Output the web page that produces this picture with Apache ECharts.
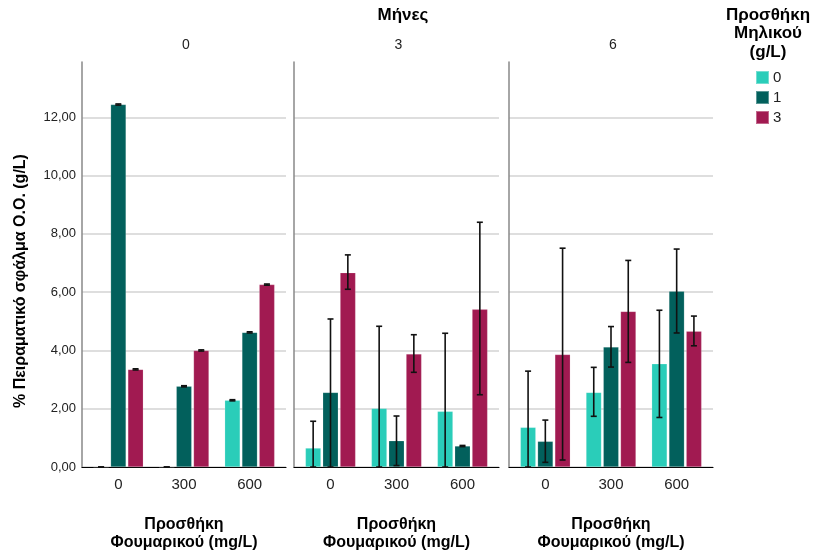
<!DOCTYPE html>
<html>
<head>
<meta charset="utf-8">
<script src="https://cdn.jsdelivr.net/npm/echarts@6/dist/echarts.min.js"></script>
<style>
  html, body { margin: 0; padding: 0; background: #fff; }
  #chart { width: 814px; height: 552px; }
</style>
</head>
<body>
<div id="chart"></div>
<script>
// categories / facets
var fumaric = ['0', '300', '600'];
var months = ['0', '3', '6'];
var malic = ['0', '1', '3'];
var yTicks = [0, 2, 4, 6, 8, 10, 12];

// means per month panel, per malic series, over fumaric categories
var mean0 = [[0, 0, 2.29], [12.44, 2.77, 4.62], [3.35, 4.0, 6.26]];
var mean3 = [[0.65, 2.01, 1.91], [2.56, 0.90, 0.72], [6.67, 3.88, 5.41]];
var mean6 = [[1.36, 2.56, 3.54], [0.88, 4.12, 6.03], [3.86, 5.34, 4.66]];

// error bar lows / highs (same layout)
var low0 = [[0, 0, 2.27], [12.42, 2.75, 4.60], [3.33, 3.98, 6.24]];
var high0 = [[0, 0, 2.31], [12.46, 2.79, 4.64], [3.37, 4.02, 6.28]];
var low3 = [[0, 0, 0], [0, 0.05, 0.70], [6.10, 3.25, 2.48]];
var high3 = [[1.57, 4.83, 4.59], [5.08, 1.75, 0.74], [7.28, 4.54, 8.40]];
var low6 = [[0, 1.74, 1.70], [0.16, 3.43, 4.60], [0.24, 3.59, 4.16]];
var high6 = [[3.29, 3.42, 5.38], [1.61, 4.82, 7.48], [7.51, 7.09, 5.18]];

var means = [mean0, mean3, mean6];
var lows = [low0, low3, low6];
var highs = [high0, high3, high6];

var colors = ['#2ACDB9', '#02605C', '#A11A51'];
var font = 'Liberation Sans, Arial, sans-serif';
var YMAX = 13.9;

var panels = [
  {left: 82, width: 204},
  {left: 294, width: 205},
  {left: 509, width: 204}
];
var INSET = 3.5; // bars sit slightly inside each panel frame

var BAR_CAT_GAP = 0.24, BAR_GAP = 0.12;

var grids = [], xAxes = [], yAxes = [], series = [], titles = [];

panels.forEach(function (p, k) {
  var f = 2 * k, b = 2 * k + 1;
  // frame grid: gridlines, axis lines
  grids.push({left: p.left, width: p.width, top: 62, bottom: 85, outerBoundsMode: 'none'});
  // bar grid
  grids.push({left: p.left + INSET, width: p.width - 2 * INSET, top: 62, bottom: 85, outerBoundsMode: 'none'});

  xAxes.push({
    type: 'category', gridIndex: f, data: fumaric,
    axisTick: {show: false}, axisLabel: {show: false},
    axisLine: {lineStyle: {color: '#000', width: 1.2}},
    name: 'Προσθήκη\nΦουμαρικού (mg/L)',
    nameLocation: 'middle', nameGap: 49,
    nameTextStyle: {color: '#000', fontSize: 16, fontWeight: 'bold', fontFamily: font, lineHeight: 18}
  });
  xAxes.push({
    type: 'category', gridIndex: b, data: fumaric,
    axisTick: {show: false}, axisLine: {show: false},
    axisLabel: {color: '#222', fontSize: 15, fontFamily: font, margin: 10}
  });

  yAxes.push({
    type: 'value', gridIndex: f, min: 0, max: YMAX, interval: 2,
    axisLine: {show: true, lineStyle: {color: '#888', width: 1.5}},
    axisTick: {show: false},
    axisLabel: {
      show: k === 0, color: '#222', fontSize: 13, fontFamily: font, showMaxLabel: false, margin: 6,
      formatter: function (v) { return yTicks.indexOf(v) >= 0 ? v.toFixed(2).replace('.', ',') : ''; }
    },
    splitLine: {lineStyle: {color: '#d3d3d3', width: 1.5}, showMaxLine: false}
  });
  yAxes.push({
    type: 'value', gridIndex: b, min: 0, max: YMAX, interval: 2,
    axisLine: {show: false}, axisTick: {show: false},
    axisLabel: {show: false}, splitLine: {show: false}
  });

  titles.push({
    text: months[k], left: p.left + p.width / 2 - 3, top: 33, textAlign: 'center',
    textStyle: {fontSize: 14, fontWeight: 'normal', color: '#222', fontFamily: font}
  });

  malic.forEach(function (m, s) {
    series.push({
      type: 'bar', name: m, xAxisIndex: b, yAxisIndex: b,
      data: means[k][s],
      barCategoryGap: (BAR_CAT_GAP * 100) + '%', barGap: (BAR_GAP * 100) + '%',
      itemStyle: {color: colors[s], borderColor: 'rgba(255,255,255,0.35)', borderWidth: 0.5},
      silent: true
    });
  });

  var errData = [];
  malic.forEach(function (m, s) {
    fumaric.forEach(function (c, i) {
      errData.push([i, lows[k][s][i], highs[k][s][i], s]);
    });
  });
  series.push({
    type: 'custom', xAxisIndex: b, yAxisIndex: b, z: 10, silent: true,
    data: errData,
    renderItem: function (params, api) {
      var cat = api.value(0), s = api.value(3);
      var band = api.size([1, 0])[0];
      var w = band * (1 - BAR_CAT_GAP) / (3 + 2 * BAR_GAP);
      var off = (s - 1) * w * (1 + BAR_GAP);
      var lo = api.coord([cat, api.value(1)]);
      var hi = api.coord([cat, api.value(2)]);
      var x = lo[0] + off, cap = 3;
      var st = {stroke: '#111', lineWidth: 1.6};
      return {
        type: 'group',
        children: [
          {type: 'line', shape: {x1: x, y1: lo[1], x2: x, y2: hi[1]}, style: st},
          {type: 'line', shape: {x1: x - cap, y1: lo[1], x2: x + cap, y2: lo[1]}, style: st},
          {type: 'line', shape: {x1: x - cap, y1: hi[1], x2: x + cap, y2: hi[1]}, style: st}
        ]
      };
    }
  });
});

titles.push({
  text: 'Μήνες', left: 398, top: 2, textAlign: 'center',
  textStyle: {fontSize: 17, fontWeight: 'bold', color: '#000', fontFamily: font}
});
titles.push({
  text: 'Προσθήκη\nΜηλικού\n(g/L)', left: 763, top: 1, textAlign: 'center',
  textStyle: {fontSize: 17, fontWeight: 'bold', color: '#000', fontFamily: font, lineHeight: 18.5}
});

var chart = echarts.init(document.getElementById('chart'));
chart.setOption({
  animation: false,
  backgroundColor: '#fff',
  title: titles,
  graphic: [{
    type: 'text', x: 21, y: 281, rotation: Math.PI / 2,
    style: {
      text: '% Πειραματικό σφάλμα Ο.Ο. (g/L)', fill: '#000',
      font: 'bold 16px ' + font, align: 'center', verticalAlign: 'middle'
    }
  }],
  legend: {
    data: malic, orient: 'vertical', left: 755, top: 70, padding: 0,
    itemWidth: 13, itemHeight: 13, itemGap: 5,
    icon: 'rect',
    textStyle: {fontSize: 15, color: '#222', fontFamily: font, padding: [0, 0, 0, -1]}
  },
  grid: grids,
  xAxis: xAxes,
  yAxis: yAxes,
  series: series
});
</script>
</body>
</html>
